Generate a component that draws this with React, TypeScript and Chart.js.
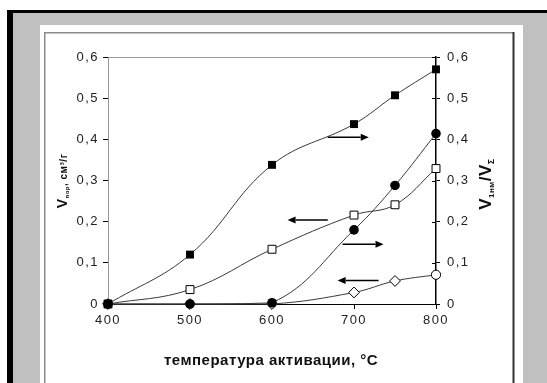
import React, { useEffect, useRef } from 'react';
import { Chart, registerables } from 'chart.js';

Chart.register(...registerables);

// Activation temperature, °C
const temperatures = [400, 500, 600, 700, 750, 800];
// filled squares (right axis, V1нм/VΣ)
const fractionSquares = [0, 0.12, 0.338, 0.437, 0.507, 0.57];
// open squares (left axis, Vпор)
const volumeSquares = [0, 0.035, 0.133, 0.216, 0.241, 0.329];
// filled circles (right axis, V1нм/VΣ)
const fractionCircles = [0, 0, 0.003, 0.18, 0.288, 0.414];
// open diamonds (left axis, Vпор)
const volumeDiamonds = [0, 0, 0, 0.028, 0.056, 0.071];
const diamondStyles = ['rectRot', 'rectRot', 'rectRot', 'rectRot', 'rectRot', 'circle'];
const diamondSizes = [5.4, 5.4, 5.4, 5.4, 5.4, 4.6];

const xTicks = [400, 500, 600, 700, 800];
const yTicks = [0, 0.1, 0.2, 0.3, 0.4, 0.5, 0.6];

// arrows pointing to the axis each curve belongs to (data units)
const arrowFrom = [668, 668, 686, 730];
const arrowTo = [718, 619, 736, 680];
const arrowLevel = [0.405, 0.204, 0.145, 0.057];

const xTitle = 'температура активации, °C';

const FONT = "'Liberation Sans', Arial, sans-serif";

function drawSegments(ctx: CanvasRenderingContext2D, segs: { t: string; size: number; dy: number }[]) {
  let total = 0;
  const widths = segs.map((s) => {
    ctx.font = `bold ${s.size}px ${FONT}`;
    const w = ctx.measureText(s.t).width;
    total += w;
    return w;
  });
  let x = -total / 2;
  segs.forEach((s, i) => {
    ctx.font = `bold ${s.size}px ${FONT}`;
    ctx.fillText(s.t, x, s.dy);
    x += widths[i];
  });
}

export default function App() {
  const ref = useRef<HTMLCanvasElement>(null);

  useEffect(() => {
    const canvas = ref.current;
    if (!canvas) return;
    const pts = (ys: number[]) => temperatures.map((x, i) => ({ x, y: ys[i] }));
    const fmt = (v: any) => (Number(v) === 0 ? '0' : Number(v).toFixed(1).replace('.', ','));

    const framePlugin = {
      id: 'frame',
      beforeDraw(chart: any) {
        const ctx = chart.ctx as CanvasRenderingContext2D;
        ctx.save();
        ctx.fillStyle = '#fff';
        ctx.fillRect(0, 0, 547, 383);
        ctx.fillStyle = '#c0c0c0';
        ctx.fillRect(13, 13, 534, 370);
        ctx.fillStyle = '#000';
        ctx.fillRect(7, 10, 540, 3);
        ctx.fillRect(7, 10, 6, 373);
        ctx.fillStyle = '#fff';
        ctx.fillRect(40, 25, 483, 358);
        ctx.fillStyle = '#8a8a8a';
        ctx.fillRect(44, 32, 470, 1.5);
        ctx.fillRect(44, 32, 1.5, 351);
        ctx.fillStyle = '#333';
        ctx.fillRect(512.5, 32, 2, 351);
        const a = chart.chartArea;
        ctx.strokeStyle = '#999';
        ctx.lineWidth = 1;
        ctx.beginPath();
        ctx.moveTo(a.left, a.top + 0.5);
        ctx.lineTo(a.right, a.top + 0.5);
        ctx.stroke();
        ctx.restore();
        (ctx as any).letterSpacing = '1.5px';
      },
      afterDatasetsDraw(chart: any) {
        const ctx = chart.ctx as CanvasRenderingContext2D;
        const xs = chart.scales.x;
        const ys = chart.scales.y;
        ctx.save();
        ctx.strokeStyle = '#000';
        ctx.fillStyle = '#000';
        ctx.lineWidth = 1.6;
        arrowFrom.forEach((from, i) => {
          const x1 = xs.getPixelForValue(from);
          const x2 = xs.getPixelForValue(arrowTo[i]);
          const y = ys.getPixelForValue(arrowLevel[i]);
          const dir = x2 > x1 ? 1 : -1;
          const head = 8;
          ctx.beginPath();
          ctx.moveTo(x1, y);
          ctx.lineTo(x2 - dir * head, y);
          ctx.stroke();
          ctx.beginPath();
          ctx.moveTo(x2, y);
          ctx.lineTo(x2 - dir * head, y - 3.5);
          ctx.lineTo(x2 - dir * head, y + 3.5);
          ctx.closePath();
          ctx.fill();
        });
        ctx.restore();
      },
      afterDraw(chart: any) {
        const ctx = chart.ctx as CanvasRenderingContext2D;
        const y2 = chart.scales.y2;
        const a = chart.chartArea;
        ctx.save();
        ctx.strokeStyle = '#000';
        ctx.lineWidth = 1;
        yTicks.forEach((v) => {
          const py = Math.round(y2.getPixelForValue(v)) + 0.5;
          ctx.beginPath();
          ctx.moveTo(a.right - 4, py);
          ctx.lineTo(a.right, py);
          ctx.stroke();
        });
        ctx.fillStyle = '#111';
        (ctx as any).letterSpacing = '0.5px';
        ctx.textBaseline = 'alphabetic';
        ctx.font = `bold 15px ${FONT}`;
        ctx.textAlign = 'center';
        ctx.fillText(xTitle, 271, 365);
        ctx.textAlign = 'left';
        ctx.save();
        ctx.translate(62, 181);
        ctx.rotate(-Math.PI / 2);
        drawSegments(ctx, [
          { t: 'V', size: 14, dy: 5 },
          { t: 'пор', size: 6, dy: 7 },
          { t: ', см³/г', size: 10, dy: 5 },
        ]);
        ctx.restore();
        ctx.save();
        ctx.translate(485, 184);
        ctx.rotate(-Math.PI / 2);
        drawSegments(ctx, [
          { t: 'V', size: 17, dy: 6 },
          { t: '1нм', size: 8, dy: 9 },
          { t: '/V', size: 17, dy: 6 },
          { t: 'Σ', size: 9, dy: 9 },
        ]);
        ctx.restore();
        ctx.restore();
      },
    };

    const tickFont = { family: FONT, size: 13 };

    const chart = new Chart(canvas, {
      type: 'line',
      data: {
        datasets: [
          {
            data: pts(fractionSquares),
            yAxisID: 'y2',
            borderColor: '#3a3a3a',
            borderWidth: 1,
            tension: 0.4,
            pointStyle: 'rect',
            pointRadius: 5.6,
            pointBackgroundColor: '#000',
            pointBorderColor: '#000',
            pointBorderWidth: 0,
            clip: false,
          },
          {
            data: pts(fractionCircles),
            yAxisID: 'y2',
            borderColor: '#3a3a3a',
            borderWidth: 1,
            tension: 0.4,
            pointStyle: 'circle',
            pointRadius: 4.8,
            pointBackgroundColor: '#000',
            pointBorderColor: '#000',
            pointBorderWidth: 0,
            clip: false,
          },
          {
            data: pts(volumeSquares),
            yAxisID: 'y',
            borderColor: '#3a3a3a',
            borderWidth: 1,
            tension: 0.4,
            pointStyle: 'rect',
            pointRadius: 5.6,
            pointBackgroundColor: '#fff',
            pointBorderColor: '#000',
            pointBorderWidth: 1,
            clip: false,
          },
          {
            data: pts(volumeDiamonds),
            yAxisID: 'y',
            borderColor: '#3a3a3a',
            borderWidth: 1,
            tension: 0.4,
            pointStyle: diamondStyles as any,
            pointRadius: diamondSizes,
            pointBackgroundColor: '#fff',
            pointBorderColor: '#000',
            pointBorderWidth: 1,
            clip: false,
          },
        ],
      },
      options: {
        responsive: false,
        animation: false,
        devicePixelRatio: 1,
        events: [],
        layout: { padding: { top: 57, left: 0, right: 0, bottom: 0 } },
        plugins: { legend: { display: false }, tooltip: { enabled: false } },
        scales: {
          x: {
            type: 'linear',
            position: 'bottom',
            min: 400,
            max: 800,
            afterBuildTicks: (s: any) => {
              s.ticks = xTicks.map((value) => ({ value }));
            },
            afterFit: (s: any) => {
              s.height = 79;
            },
            grid: { drawOnChartArea: false, tickLength: 5, color: '#000', lineWidth: 1 },
            border: { color: '#000', width: 1 },
            ticks: { font: tickFont, color: '#222', padding: 4, maxRotation: 0, callback: (v: any) => String(v) },
          },
          y: {
            position: 'left',
            min: 0,
            max: 0.6,
            afterBuildTicks: (s: any) => {
              s.ticks = yTicks.map((value) => ({ value }));
            },
            afterFit: (s: any) => {
              s.width = 108;
            },
            grid: { drawOnChartArea: false, tickLength: 5, color: '#000', lineWidth: 1 },
            border: { color: '#999', width: 1 },
            ticks: { font: tickFont, color: '#222', padding: 4, callback: fmt },
          },
          y2: {
            position: 'right',
            min: 0,
            max: 0.6,
            afterBuildTicks: (s: any) => {
              s.ticks = yTicks.map((value) => ({ value }));
            },
            afterFit: (s: any) => {
              s.width = 111;
            },
            grid: { drawOnChartArea: false, tickLength: 4, color: '#000', lineWidth: 1 },
            border: { color: '#000', width: 1.5 },
            ticks: { font: tickFont, color: '#222', padding: 7, callback: fmt },
          },
        },
      },
      plugins: [framePlugin],
    } as any);

    return () => chart.destroy();
  }, []);

  return (
    <div style={{ position: 'fixed', left: 0, top: 0, width: 547, height: 383 }}>
      <canvas ref={ref} width={547} height={383} style={{ display: 'block' }} />
    </div>
  );
}
